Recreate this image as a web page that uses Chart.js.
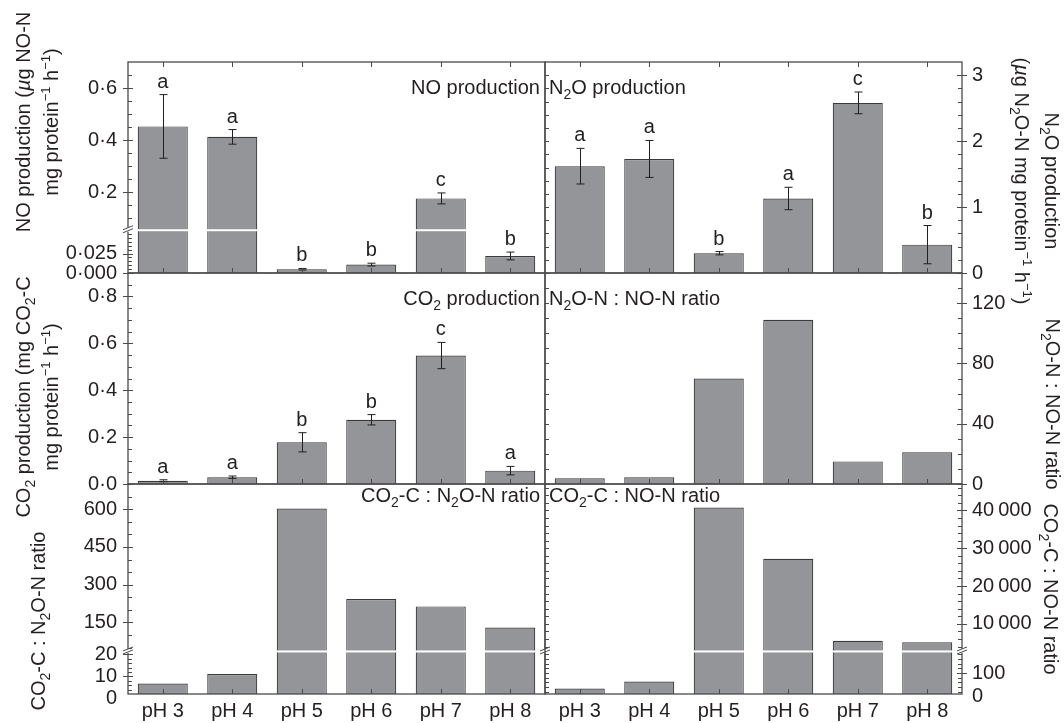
<!DOCTYPE html>
<html>
<head>
<meta charset="utf-8">
<title>NO, N2O and CO2 production at pH 3 to 8</title>
<script src="https://cdn.jsdelivr.net/npm/chart.js@4.4.1/dist/chart.umd.min.js"></script>
<style>
  html, body { margin: 0; padding: 0; background: #fff; }
  #fig { position: relative; width: 1064px; height: 723px; overflow: hidden;
         font-family: "Liberation Sans", Arial, sans-serif; color: #231f20; }
  #fig canvas { position: absolute; }
  .t { position: absolute; font-size: 20px; line-height: 20px; white-space: nowrap; }
  .t sub { font-size: 14px; line-height: 0; vertical-align: -5px; }
  .t sup { font-size: 13px; line-height: 0; vertical-align: 8px; }
  .yl { transform: translate(-50%, -50%) rotate(-90deg); text-align: center; line-height: 28px; }
  .yr { transform: translate(-50%, -50%) rotate(90deg); text-align: center; line-height: 30px; }
</style>
</head>
<body>
<div id="fig">
  <canvas id="c0"></canvas>
  <canvas id="c1"></canvas>
  <canvas id="c2"></canvas>
  <canvas id="c3"></canvas>
  <canvas id="c4"></canvas>
  <canvas id="c5"></canvas>

  <!-- panel captions -->
  <div class="t" style="right:524px; top:77px;">NO production</div>
  <div class="t" style="left:549px; top:77px;">N<sub>2</sub>O production</div>
  <div class="t" style="right:524px; top:288px;">CO<sub>2</sub> production</div>
  <div class="t" style="left:549px; top:288px;">N<sub>2</sub>O-N : NO-N ratio</div>
  <div class="t" style="right:524px; top:485px;">CO<sub>2</sub>-C : N<sub>2</sub>O-N ratio</div>
  <div class="t" style="left:549px; top:485px;">CO<sub>2</sub>-C : NO-N ratio</div>

  <!-- axis titles, left -->
  <div class="t yl" style="left:37px; top:122px;">NO production (<i>µ</i>g NO-N<br>mg protein<sup>−1</sup> h<sup>−1</sup>)</div>
  <div class="t yl" style="left:37px; top:397px;">CO<sub>2</sub> production (mg CO<sub>2</sub>-C<br>mg protein<sup>−1</sup> h<sup>−1</sup>)</div>
  <div class="t yl" style="left:38px; top:621px;">CO<sub>2</sub>-C : N<sub>2</sub>O-N ratio</div>

  <!-- axis titles, right -->
  <div class="t yr" style="left:1037px; top:181px;">N<sub>2</sub>O production<br>(<i>µ</i>g N<sub>2</sub>O-N mg protein<sup>−1</sup> h<sup>−1</sup>)</div>
  <div class="t yr" style="left:1053px; top:404px;">N<sub>2</sub>O-N : NO-N ratio</div>
  <div class="t yr" style="left:1051px; top:589px;">CO<sub>2</sub>-C : NO-N ratio</div>
</div>

<script>
// ---- data -------------------------------------------------------------
const categories = ['pH 3', 'pH 4', 'pH 5', 'pH 6', 'pH 7', 'pH 8'];

// NO production (µg NO-N mg protein-1 h-1), mean ± error, letter groups
const noMeans   = [0.453, 0.413, 0.0048, 0.0108, 0.177, 0.0219];
const noErrors  = [0.122, 0.028, 0.0010, 0.0018, 0.021, 0.0050];
const noLetters = ['a', 'a', 'b', 'b', 'c', 'b'];

// N2O production (µg N2O-N mg protein-1 h-1)
const n2oMeans   = [1.62, 1.73, 0.30, 1.13, 2.58, 0.43];
const n2oErrors  = [0.27, 0.28, 0.025, 0.17, 0.165, 0.29];
const n2oLetters = ['a', 'a', 'b', 'a', 'c', 'b'];

// CO2 production (mg CO2-C mg protein-1 h-1)
const co2Means   = [0.014, 0.029, 0.178, 0.274, 0.548, 0.057];
const co2Errors  = [0.004, 0.005, 0.041, 0.022, 0.056, 0.018];
const co2Letters = ['a', 'a', 'b', 'b', 'c', 'a'];

// ratios
const n2oToNoRatio  = [3.8, 4.5, 70, 109, 15, 21];
const co2ToN2oRatio = [6.8, 11.1, 603, 243, 214, 130];
const co2ToNoRatio  = [34, 64, 40800, 27200, 5500, 5100];

// tick values and their printed labels
const noTickValues   = [0, 0.025, 0.2, 0.4, 0.6];
const noTickLabels   = ['0·000', '0·025', '0·2', '0·4', '0·6'];
const n2oTickValues  = [0, 1, 2, 3];
const n2oTickLabels  = ['0', '1', '2', '3'];
const co2TickValues  = [0, 0.2, 0.4, 0.6, 0.8];
const co2TickLabels  = ['0·0', '0·2', '0·4', '0·6', '0·8'];
const n2oNoTickValues = [0, 40, 80, 120];
const n2oNoTickLabels = ['0', '40', '80', '120'];
const co2N2oTickValues = [0, 10, 20, 150, 300, 450, 600];
const co2N2oTickLabels = ['0', '10', '20', '150', '300', '450', '600'];
const co2NoTickValues = [0, 100, 10000, 20000, 30000, 40000];
const co2NoTickLabels = ['0', '100', '10\u2009000', '20\u2009000', '30\u2009000', '40\u2009000'];

// ---- look -------------------------------------------------------------
const BAR_FILL = '#939598';
const BAR_EDGE = '#3a3a3a';
const AXIS_COLOR = '#4a4a4a';
const INK = '#231f20';
const FONT = '20px "Liberation Sans", Arial, sans-serif';

Chart.defaults.font.family = '"Liberation Sans", Arial, sans-serif';
Chart.defaults.font.size = 20;
Chart.defaults.color = INK;

// panel frame edges on the page
const EDGE_Y = [62, 273, 484, 694];
const EDGE_X = { left: [128, 545], right: [545, 962] };
const AXIS_W = 100, PAD = 20, XLAB_H = 30, EXTRA = 10;

// value -> fraction of panel height; broken axes have a lower and an upper segment
function toDisplay(ax, v) {
  if (!ax.split) return (v - ax.min) / (ax.max - ax.min);
  const [l0, l1] = ax.lower, [u0, u1] = ax.upper;
  if (v <= l1) return (v - l0) / (l1 - l0) * ax.split;
  if (v < u0) return ax.split;
  return ax.split + (v - u0) / (u1 - u0) * (1 - ax.split);
}

function minorTicks(from, to, step, majors) {
  const out = [];
  for (let k = 0; ; k++) {
    const v = +(from + k * step).toFixed(6);
    if (v > to + step * 1e-6) break;
    if (!majors.some(m => Math.abs(m - v) < step * 1e-3)) out.push(v);
  }
  return out;
}

// error bars, significance letters, axis break strips, frame and tick marks
function decor(p) {
  return {
    id: 'decor',
    afterDatasetsDraw(chart) {
      const { ctx, scales: { y } } = chart;
      const bars = chart.getDatasetMeta(0).data;
      const py = v => y.getPixelForValue(toDisplay(p.axis, v));
      ctx.save();
      if (p.axis.split) {
        const yb = y.getPixelForValue(p.axis.split);
        ctx.fillStyle = '#fff';
        bars.forEach((b, i) => {
          if (p.values[i] > p.axis.lower[1]) ctx.fillRect(b.x - b.width / 2 - 1, yb - 1, b.width + 2, 2);
        });
      }
      if (p.errors) {
        ctx.strokeStyle = INK; ctx.lineWidth = 1;
        bars.forEach((b, i) => {
          const hi = py(p.values[i] + p.errors[i]);
          const lo = py(p.values[i] - p.errors[i]);
          const x = Math.round(b.x) + 0.5;
          ctx.beginPath();
          ctx.moveTo(x, hi); ctx.lineTo(x, lo);
          ctx.moveTo(x - 4, hi); ctx.lineTo(x + 4, hi);
          ctx.moveTo(x - 4, lo); ctx.lineTo(x + 4, lo);
          ctx.stroke();
        });
      }
      if (p.letters) {
        ctx.fillStyle = INK; ctx.font = FONT;
        ctx.textAlign = 'center'; ctx.textBaseline = 'alphabetic';
        bars.forEach((b, i) => {
          const top = py(p.values[i] + (p.errors ? p.errors[i] : 0));
          ctx.fillText(p.letters[i], b.x, top - 7);
        });
      }
      ctx.restore();
    },
    afterDraw(chart) {
      const { ctx, chartArea: a, scales: { y } } = chart;
      const bars = chart.getDatasetMeta(0).data;
      const py = v => y.getPixelForValue(toDisplay(p.axis, v));
      const inside = v => { const yy = py(v); return yy >= a.top - 0.5 && yy <= a.bottom + 0.5; };
      ctx.save();
      ctx.strokeStyle = AXIS_COLOR;
      ctx.lineWidth = 1.3;
      ctx.strokeRect(a.left, a.top, a.right - a.left, a.bottom - a.top);

      ctx.lineWidth = 1;
      const axisX = p.side === 'left' ? a.left : a.right;
      const dir = p.side === 'left' ? 1 : -1;
      ctx.beginPath();
      p.tickValues.filter(inside).forEach(v => {
        const yy = Math.round(py(v)) + 0.5;
        ctx.moveTo(axisX - dir * 5, yy); ctx.lineTo(axisX + dir * 5, yy);
      });
      p.minor.filter(inside).forEach(v => {
        const yy = Math.round(py(v)) + 0.5;
        ctx.moveTo(axisX, yy); ctx.lineTo(axisX + dir * 4, yy);
      });
      if (p.side === 'right') {
        [...p.tickValues, ...p.minor].filter(inside).forEach(v => {
          const yy = Math.round(py(v)) + 0.5;
          ctx.moveTo(a.left, yy); ctx.lineTo(a.left + 4, yy);
        });
      }
      bars.forEach(b => {
        const x = Math.round(b.x) + 0.5;
        ctx.moveTo(x, a.bottom); ctx.lineTo(x, a.bottom - 5);
        if (p.row === 0) { ctx.moveTo(x, a.top); ctx.lineTo(x, a.top + 5); }
      });
      ctx.stroke();

      (p.breakAt || []).forEach(side => {
        const x = side === 'left' ? a.left : a.right;
        const yb = y.getPixelForValue(p.axis.split);
        ctx.fillStyle = '#fff';
        ctx.fillRect(x - 2, yb - 2.5, 4, 4);
        ctx.strokeStyle = AXIS_COLOR;
        ctx.beginPath();
        ctx.moveTo(x - 5, yb - 0.5); ctx.lineTo(x + 5, yb - 4.5);
        ctx.moveTo(x - 5, yb + 2.5); ctx.lineTo(x + 5, yb - 1.5);
        ctx.stroke();
      });
      ctx.restore();
    }
  };
}

// ---- panels -----------------------------------------------------------
const panels = [
  { side: 'left', row: 0, values: noMeans, errors: noErrors, letters: noLetters,
    axis: { lower: [0, 0.055], upper: [0.055, 0.7], split: 0.2027 },
    tickValues: noTickValues, tickLabels: noTickLabels,
    minor: [...minorTicks(0.005, 0.05, 0.005, noTickValues), ...minorTicks(0.1, 0.65, 0.05, noTickValues)],
    breakAt: ['left'] },
  { side: 'right', row: 0, values: n2oMeans, errors: n2oErrors, letters: n2oLetters,
    axis: { min: 0, max: 3.2 },
    tickValues: n2oTickValues, tickLabels: n2oTickLabels,
    minor: minorTicks(0.2, 3.0, 0.2, n2oTickValues) },
  { side: 'left', row: 1, values: co2Means, errors: co2Errors, letters: co2Letters,
    axis: { min: 0, max: 0.9 },
    tickValues: co2TickValues, tickLabels: co2TickLabels,
    minor: minorTicks(0.05, 0.85, 0.05, co2TickValues) },
  { side: 'right', row: 1, values: n2oToNoRatio,
    axis: { min: 0, max: 140 },
    tickValues: n2oNoTickValues, tickLabels: n2oNoTickLabels,
    minor: minorTicks(10, 130, 10, n2oNoTickValues) },
  { side: 'left', row: 2, values: co2ToN2oRatio,
    axis: { lower: [2.1, 21.3], upper: [35, 700], split: 0.2026 },
    tickValues: co2N2oTickValues, tickLabels: co2N2oTickLabels,
    minor: [...minorTicks(4, 20, 2, co2N2oTickValues), ...minorTicks(50, 650, 50, co2N2oTickValues)],
    breakAt: ['left', 'right'] },
  { side: 'right', row: 2, values: co2ToNoRatio,
    axis: { lower: [10.3, 192], upper: [2690, 47000], split: 0.2026 },
    tickValues: co2NoTickValues, tickLabels: co2NoTickLabels,
    minor: [...minorTicks(20, 180, 20, co2NoTickValues), ...minorTicks(4000, 46000, 2000, co2NoTickValues)],
    breakAt: ['right'] }
];

function makePanel(p, idx) {
  const canvas = document.getElementById('c' + idx);
  const [x0, x1] = EDGE_X[p.side];
  const top = EDGE_Y[p.row], bottom = EDGE_Y[p.row + 1];
  const isBottom = p.row === 2;
  const w = (x1 - x0) + AXIS_W + EXTRA;
  const h = PAD + (bottom - top) + (isBottom ? XLAB_H : PAD);
  canvas.width = w; canvas.height = h;
  canvas.style.width = w + 'px'; canvas.style.height = h + 'px';
  canvas.style.left = (p.side === 'left' ? x0 - AXIS_W : x0 - EXTRA) + 'px';
  canvas.style.top = (top - PAD) + 'px';

  // keep the plot area exactly where the frame goes: no label overhang padding
  const noOverhang = s => { s.paddingTop = 0; s.paddingBottom = 0; s.paddingLeft = 0; s.paddingRight = 0; };

  new Chart(canvas, {
    type: 'bar',
    data: {
      labels: categories,
      datasets: [{
        data: p.values.map(v => toDisplay(p.axis, v)),
        backgroundColor: BAR_FILL,
        borderColor: BAR_EDGE,
        borderWidth: 1.2,
        barPercentage: 0.72,
        categoryPercentage: 1
      }]
    },
    options: {
      responsive: false,
      maintainAspectRatio: false,
      animation: false,
      devicePixelRatio: 1,
      layout: { padding: {
        top: PAD, bottom: isBottom ? 0 : PAD,
        left: p.side === 'left' ? 0 : EXTRA, right: p.side === 'left' ? EXTRA : 0 } },
      plugins: { legend: { display: false }, tooltip: { enabled: false } },
      scales: {
        x: {
          display: isBottom,
          grid: { display: false, drawTicks: false },
          border: { display: false },
          ticks: { padding: 5, maxRotation: 0, autoSkip: false },
          afterFit: s => { s.height = isBottom ? XLAB_H : 0; noOverhang(s); }
        },
        y: {
          position: p.side,
          min: 0, max: 1,
          grid: { display: false, drawTicks: false },
          border: { display: false },
          afterBuildTicks: s => { s.ticks = p.tickValues.map(v => ({ value: toDisplay(p.axis, v) })); },
          ticks: { autoSkip: false, padding: p.side === 'left' ? 11 : 10,
                   callback: (v, i) => p.tickLabels[i] },
          afterFit: s => { s.width = AXIS_W; noOverhang(s); }
        }
      }
    },
    plugins: [decor(p)]
  });
}

panels.forEach(makePanel);
</script>
</body>
</html>
